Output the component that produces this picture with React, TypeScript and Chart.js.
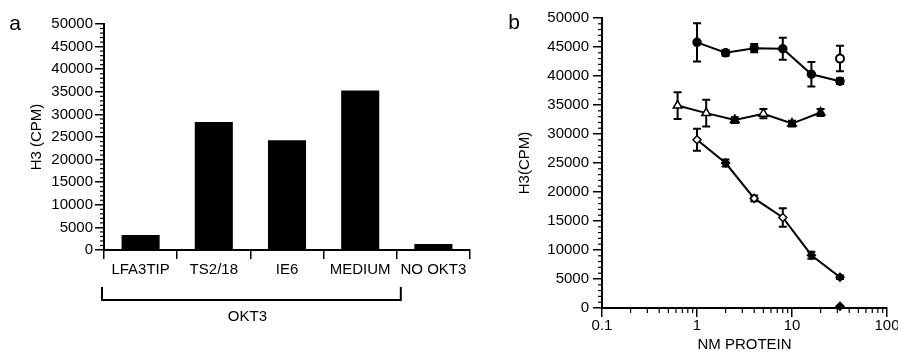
import React, { useEffect, useRef } from 'react';
import { Chart, registerables } from 'chart.js';

Chart.register(...registerables);

const FONT = "'Liberation Sans', Arial, Helvetica, sans-serif";

// ---------- Panel a data ----------
const barCategories = ['LFA3TIP', 'TS2/18', 'IE6', 'MEDIUM', 'NO OKT3'];
const barValues = [3300, 28300, 24300, 35300, 1300];
const bracketLabel = 'OKT3';
const bracketLastIndex = 3; // OKT3 bracket spans LFA3TIP..MEDIUM
const yTitleA = 'H3 (CPM)';
const panelLetterA = 'a';

// ---------- Panel b data ----------
const xTickValuesB = [0.1, 1, 10, 100];
const xTickLabelsB = ['0.1', '1', '10', '100'];
const xTitleB = 'NM PROTEIN';
const yTitleB = 'H3(CPM)';
const panelLetterB = 'b';

const doseCircles = [1, 2, 4, 8, 16, 32];
const circleValues = [45800, 44000, 44800, 44700, 40300, 39100];
const circleErrors = [3300, 500, 700, 1900, 2100, 500];

const doseOpenCircle = [32];
const openCircleValues = [43000];
const openCircleErrors = [2200];

const doseTriangles = [0.625, 1.25, 2.5, 5, 10, 20];
const triangleValues = [34900, 33600, 32400, 33500, 31800, 33700];
const triangleErrors = [2300, 2300, 500, 800, 500, 600];
const triangleFilled = [false, false, true, false, true, true];

const doseDiamonds = [1, 2, 4, 8, 16, 32];
const diamondValues = [29000, 25000, 18900, 15600, 9100, 5300];
const diamondErrors = [1900, 600, 500, 1600, 600, 300];
const diamondFilled = [false, true, false, false, true, true];

const doseControl = [32];
const controlValues = [300];

const Y_MAX = 50000;
const Y_STEP = 5000;
const Y_MINOR = 1000;

const fill = (f: boolean) => (f ? '#000' : '#fff');
const plainNumber = (v: any) => String(v);

const axisCommon = {
  border: { color: '#000', width: 2 },
  grid: { drawOnChartArea: false, color: '#000', lineWidth: 1.5, tickLength: 9 },
};

const panelAPlugin = {
  id: 'panelA',
  afterDraw(chart: any) {
    const { ctx, chartArea, scales } = chart;
    const x = scales.x;
    const y = scales.y;
    ctx.save();
    ctx.strokeStyle = '#000';
    ctx.lineWidth = 1.2;
    for (let v = 0; v <= Y_MAX; v += Y_MINOR) {
      if (v % Y_STEP === 0) continue;
      const py = y.getPixelForValue(v);
      ctx.beginPath();
      ctx.moveTo(chartArea.left - 4, py);
      ctx.lineTo(chartArea.left, py);
      ctx.stroke();
    }
    const half = (x.getPixelForValue(1) - x.getPixelForValue(0)) / 2;
    const x0 = x.getPixelForValue(0) - half - 2;
    const x1 = x.getPixelForValue(bracketLastIndex) + half + 4;
    const yb = chartArea.bottom + 50;
    const yt = chartArea.bottom + 37;
    ctx.lineWidth = 2;
    ctx.beginPath();
    ctx.moveTo(x0, yt);
    ctx.lineTo(x0, yb);
    ctx.lineTo(x1, yb);
    ctx.lineTo(x1, yt);
    ctx.stroke();
    ctx.fillStyle = '#000';
    ctx.textAlign = 'center';
    ctx.textBaseline = 'middle';
    ctx.font = `15px ${FONT}`;
    ctx.fillText(bracketLabel, (x0 + x1) / 2 - 4, chartArea.bottom + 67);
    ctx.font = `21px ${FONT}`;
    ctx.fillText(panelLetterA, 15, 24);
    ctx.restore();
  },
};

const errorSeries = [
  { x: doseCircles, y: circleValues, e: circleErrors },
  { x: doseOpenCircle, y: openCircleValues, e: openCircleErrors },
  { x: doseTriangles, y: triangleValues, e: triangleErrors },
  { x: doseDiamonds, y: diamondValues, e: diamondErrors },
];

const panelBPlugin = {
  id: 'panelB',
  beforeDatasetsDraw(chart: any) {
    const { ctx, scales } = chart;
    const x = scales.x;
    const y = scales.y;
    ctx.save();
    ctx.strokeStyle = '#000';
    ctx.lineWidth = 2;
    errorSeries.forEach((s) => {
      s.x.forEach((xv, i) => {
        const px = x.getPixelForValue(xv);
        const top = y.getPixelForValue(s.y[i] + s.e[i]);
        const bot = y.getPixelForValue(s.y[i] - s.e[i]);
        ctx.beginPath();
        ctx.moveTo(px, top);
        ctx.lineTo(px, bot);
        ctx.moveTo(px - 4, top);
        ctx.lineTo(px + 4, top);
        ctx.moveTo(px - 4, bot);
        ctx.lineTo(px + 4, bot);
        ctx.stroke();
      });
    });
    ctx.restore();
  },
  afterDraw(chart: any) {
    const { ctx, chartArea, scales } = chart;
    const x = scales.x;
    const y = scales.y;
    ctx.save();
    ctx.strokeStyle = '#000';
    ctx.lineWidth = 1.2;
    for (let v = 0; v <= Y_MAX; v += Y_MINOR) {
      if (v % Y_STEP === 0) continue;
      const py = y.getPixelForValue(v);
      ctx.beginPath();
      ctx.moveTo(chartArea.left - 4, py);
      ctx.lineTo(chartArea.left, py);
      ctx.stroke();
    }
    for (let d = 0; d < xTickValuesB.length - 1; d++) {
      for (let m = 2; m <= 9; m++) {
        const px = x.getPixelForValue(xTickValuesB[d] * m);
        ctx.beginPath();
        ctx.moveTo(px, chartArea.bottom);
        ctx.lineTo(px, chartArea.bottom + 5);
        ctx.stroke();
      }
    }
    ctx.fillStyle = '#000';
    ctx.textAlign = 'center';
    ctx.textBaseline = 'middle';
    ctx.font = `21px ${FONT}`;
    ctx.fillText(panelLetterB, 34, 23);
    ctx.restore();
  },
};

function PanelA() {
  const ref = useRef<HTMLCanvasElement>(null);
  useEffect(() => {
    const chart = new Chart(ref.current!, {
      type: 'bar',
      data: {
        labels: barCategories,
        datasets: [
          {
            data: barValues,
            backgroundColor: '#000',
            borderWidth: 0,
            barPercentage: 0.52,
            categoryPercentage: 1,
          },
        ],
      },
      options: {
        responsive: false,
        animation: false,
        layout: { padding: { left: 24, top: 24, right: 10, bottom: 0 } },
        plugins: { legend: { display: false }, tooltip: { enabled: false } },
        scales: {
          x: {
            ...axisCommon,
            grid: { ...axisCommon.grid, offset: true },
            ticks: { color: '#000', font: { family: FONT, size: 15 }, padding: 2, maxRotation: 0, autoSkip: false },
            afterFit: (s: any) => {
              s.height = 104;
            },
          },
          y: {
            ...axisCommon,
            min: 0,
            max: Y_MAX,
            ticks: { stepSize: Y_STEP, color: '#000', font: { family: FONT, size: 15 }, padding: 2, callback: plainNumber },
            title: { display: true, text: yTitleA, color: '#000', font: { family: FONT, size: 15 }, padding: { top: 4, bottom: 4 } },
            afterFit: (s: any) => {
              s.width = 80;
            },
          },
        },
      },
      plugins: [panelAPlugin],
    } as any);
    return () => chart.destroy();
  }, []);
  return <canvas ref={ref} width={480} height={354} style={{ position: 'absolute', left: 0, top: 0 }} />;
}

function PanelB() {
  const ref = useRef<HTMLCanvasElement>(null);
  useEffect(() => {
    const line = (xs: number[], ys: number[]) => xs.map((xv, i) => ({ x: xv, y: ys[i] }));
    const chart = new Chart(ref.current!, {
      type: 'line',
      data: {
        datasets: [
          {
            data: line(doseCircles, circleValues),
            borderColor: '#000',
            borderWidth: 2,
            pointStyle: 'circle',
            pointRadius: 4,
            pointBackgroundColor: '#000',
            pointBorderColor: '#000',
            pointBorderWidth: 1.5,
          },
          {
            data: line(doseOpenCircle, openCircleValues),
            showLine: false,
            pointStyle: 'circle',
            pointRadius: 4,
            pointBackgroundColor: '#fff',
            pointBorderColor: '#000',
            pointBorderWidth: 2,
          },
          {
            data: line(doseTriangles, triangleValues),
            borderColor: '#000',
            borderWidth: 2,
            pointStyle: 'triangle',
            pointRadius: 5,
            pointBackgroundColor: triangleFilled.map(fill),
            pointBorderColor: '#000',
            pointBorderWidth: 1.5,
          },
          {
            data: line(doseDiamonds, diamondValues),
            borderColor: '#000',
            borderWidth: 2,
            pointStyle: 'rectRot',
            pointRadius: 4,
            pointBackgroundColor: diamondFilled.map(fill),
            pointBorderColor: '#000',
            pointBorderWidth: 1.5,
          },
          {
            data: line(doseControl, controlValues),
            showLine: false,
            pointStyle: 'rectRot',
            pointRadius: 4,
            pointBackgroundColor: '#000',
            pointBorderColor: '#000',
            pointBorderWidth: 1.5,
          },
        ],
      },
      options: {
        responsive: false,
        animation: false,
        clip: false,
        layout: { padding: { left: 32, top: 18, right: 33, bottom: 0 } },
        plugins: { legend: { display: false }, tooltip: { enabled: false } },
        scales: {
          x: {
            ...axisCommon,
            type: 'logarithmic',
            min: xTickValuesB[0],
            max: xTickValuesB[xTickValuesB.length - 1],
            afterBuildTicks: (s: any) => {
              s.ticks = xTickValuesB.map((v) => ({ value: v, major: true }));
            },
            ticks: {
              color: '#000',
              font: { family: FONT, size: 15 },
              padding: 0,
              maxRotation: 0,
              autoSkip: false,
              callback: (v: any) => {
                const i = xTickValuesB.indexOf(Number(v));
                return i >= 0 ? xTickLabelsB[i] : '';
              },
            },
            title: { display: true, text: xTitleB, color: '#000', font: { family: FONT, size: 15 }, padding: { top: 0, bottom: 0 } },
            afterFit: (s: any) => {
              s.height = 46;
            },
          },
          y: {
            ...axisCommon,
            min: 0,
            max: Y_MAX,
            ticks: { stepSize: Y_STEP, color: '#000', font: { family: FONT, size: 15 }, padding: 4, callback: plainNumber },
            title: { display: true, text: yTitleB, color: '#000', font: { family: FONT, size: 15 }, padding: { top: 4, bottom: 4 } },
            afterFit: (s: any) => {
              s.width = 90;
            },
          },
        },
      },
      plugins: [panelBPlugin],
    } as any);
    return () => chart.destroy();
  }, []);
  return <canvas ref={ref} width={440} height={354} style={{ position: 'absolute', left: 480, top: 0 }} />;
}

export default function App() {
  return (
    <div style={{ position: 'fixed', left: 0, top: 0, width: 898, height: 354, overflow: 'hidden', background: '#fff' }}>
      <PanelA />
      <PanelB />
    </div>
  );
}
